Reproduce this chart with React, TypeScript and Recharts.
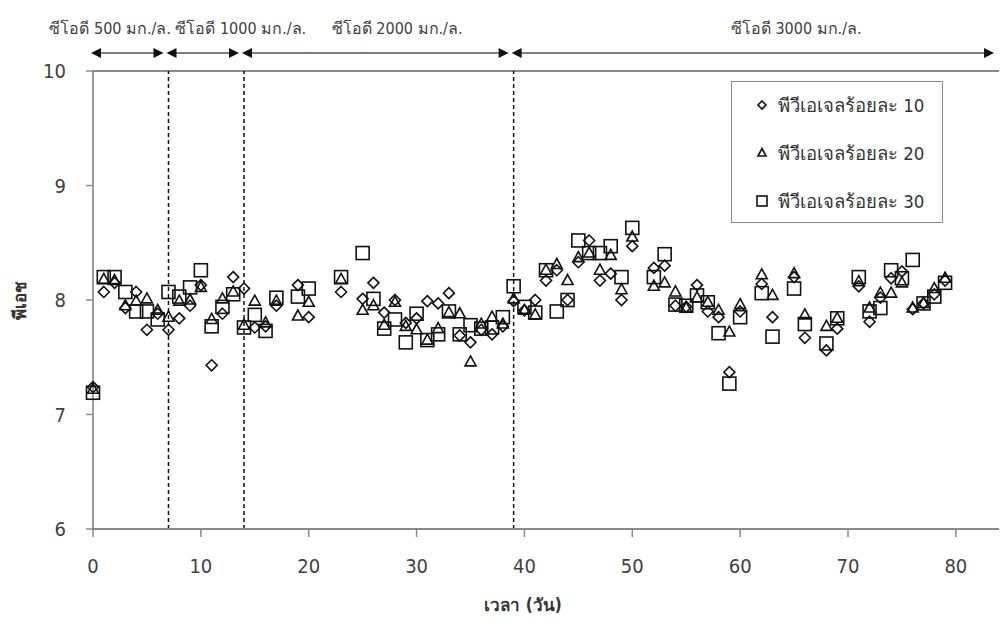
import { ScatterChart, Scatter, XAxis, YAxis, ReferenceLine, ReferenceDot, Legend } from 'recharts';

// sampling days (วัน)
const days = [
  0, 1, 2, 3, 4, 5, 6, 7, 8, 9, 10, 11, 12, 13, 14, 15, 16, 17, 19, 20, 23,
  25, 26, 27, 28, 29, 30, 31, 32, 33, 34, 35, 36, 37, 38, 39, 40, 41, 42, 43, 44,
  45, 46, 47, 48, 49, 50, 52, 53, 54, 55, 56, 57, 58, 59, 60, 62, 63, 65, 66, 68,
  69, 71, 72, 73, 74, 75, 76, 77, 78, 79,
];

// pH, PVA gel 10 %
const pva10 = [
  7.24, 8.07, 8.15, 7.93, 8.07, 7.74, 7.88, 7.74, 7.84, 7.95, 8.13, 7.43, 7.88, 8.2, 8.1, 7.76, 7.77, 7.95, 8.13, 7.85, 8.07,
  8.01, 8.15, 7.89, 8.0, 7.8, 7.84, 7.99, 7.97, 8.06, 7.69, 7.63, 7.74, 7.7, 7.77, 7.99, 7.91, 8.0, 8.17, 8.26, 8.0,
  8.33, 8.52, 8.17, 8.23, 8.0, 8.47, 8.28, 8.3, 7.95, 7.94, 8.13, 7.9, 7.85, 7.37, 7.9, 8.14, 7.85, 8.2, 7.67, 7.56,
  7.75, 8.12, 7.81, 8.02, 8.19, 8.25, 7.92, 7.97, 8.05, 8.17,
];

// pH, PVA gel 20 %
const pva20 = [
  7.22, 8.18, 8.17, 7.95, 7.99, 8.01, 7.91, 7.85, 7.99, 8.0, 8.11, 7.83, 8.01, 8.07, 7.78, 7.99, 7.8, 7.99, 7.86, 7.98, 8.18,
  7.91, 7.95, 7.78, 7.98, 7.77, 7.74, 7.65, 7.75, 7.89, 7.88, 7.46, 7.79, 7.85, 7.79, 8.01, 7.91, 7.87, 8.26, 8.31, 8.17,
  8.37, 8.41, 8.26, 8.39, 8.09, 8.55, 8.12, 8.15, 8.07, 7.93, 8.02, 7.98, 7.91, 7.72, 7.96, 8.22, 8.04, 8.23, 7.87, 7.77,
  7.84, 8.16, 7.93, 8.06, 8.06, 8.15, 7.93, 7.97, 8.1, 8.19,
];

// pH, PVA gel 30 %
const pva30 = [
  7.19, 8.2, 8.2, 8.07, 7.9, 7.9, 7.83, 8.07, 8.03, 8.11, 8.26, 7.77, 7.94, 8.05, 7.76, 7.87, 7.73, 8.02, 8.03, 8.1, 8.2,
  8.41, 8.01, 7.75, 7.83, 7.63, 7.88, 7.65, 7.7, 7.9, 7.7, 7.78, 7.75, 7.76, 7.85, 8.12, 7.94, 7.89, 8.26, 7.9, 8.0,
  8.52, 8.41, 8.41, 8.47, 8.2, 8.63, 8.2, 8.4, 7.96, 7.95, 8.04, 7.98, 7.71, 7.27, 7.85, 8.06, 7.68, 8.1, 7.79, 7.62,
  7.84, 8.2, 7.9, 7.93, 8.26, 8.19, 8.35, 7.97, 8.03, 8.15,
];

const seriesNames = ['พีวีเอเจลร้อยละ 10', 'พีวีเอเจลร้อยละ 20', 'พีวีเอเจลร้อยละ 30'];

// COD loading phases (day boundaries) and their labels
const phaseBounds = [0, 7, 14, 39, 84];
const phaseLabels = ['ซีโอดี 500 มก./ล.', 'ซีโอดี 1000 มก./ล.', 'ซีโอดี 2000 มก./ล.', 'ซีโอดี 3000 มก./ล.'];
const phaseLabelDays = [1.6, 13.7, 28.2, 65.2];

const xTicks = [0, 10, 20, 30, 40, 50, 60, 70, 80];
const yTicks = [6, 7, 8, 9, 10];

const FONT = "'DejaVu Sans Condensed', 'Liberation Sans Narrow', 'DejaVu Sans', sans-serif";

const toPoints = (vals: number[]) => days.map((d, i) => ({ day: d, ph: vals[i] }));

function DiamondShape(p: any) {
  const { cx, cy } = p;
  const r = 5.5;
  return (
    <path d={`M${cx},${cy - r}L${cx + r},${cy}L${cx},${cy + r}L${cx - r},${cy}Z`} fill="none" stroke="#111" strokeWidth={1.6} />
  );
}

function TriangleShape(p: any) {
  const { cx, cy } = p;
  return (
    <path d={`M${cx},${cy - 6}L${cx + 5.5},${cy + 4}L${cx - 5.5},${cy + 4}Z`} fill="none" stroke="#111" strokeWidth={1.6} />
  );
}

function SquareShape(p: any) {
  const { cx, cy } = p;
  return <rect x={cx - 6.5} y={cy - 6.5} width={13} height={13} fill="none" stroke="#111" strokeWidth={1.6} />;
}

function ArrowShape(p: any) {
  const { x1, x2, y1 } = p;
  const y = y1 - 18;
  const a = x1 - 2;
  const b = x2 - 5;
  return (
    <g>
      <line x1={a + 6} y1={y} x2={b - 6} y2={y} stroke="#555" strokeWidth={1.3} />
      <path d={`M${a},${y}L${a + 10},${y - 5}L${a + 10},${y + 5}Z`} fill="#111" />
      <path d={`M${b},${y}L${b - 10},${y - 5}L${b - 10},${y + 5}Z`} fill="#111" />
    </g>
  );
}

function LegendBox() {
  const rows = [23, 71, 119];
  return (
    <div style={{ width: 210, height: 140, border: '1px solid #8a8a8a', background: '#fff' }}>
      <svg width={210} height={140}>
        <path d="M30,19L34,23L30,27L26,23Z" fill="none" stroke="#111" strokeWidth={1.6} />
        <path d="M30,66.5L34,74L26,74Z" fill="none" stroke="#111" strokeWidth={1.6} />
        <rect x={25} y={114} width={10} height={10} fill="none" stroke="#111" strokeWidth={1.6} />
        {seriesNames.map((n, i) => (
          <text key={n} x={46} y={rows[i]} dominantBaseline="central" fontSize={18.5} fill="#333" fontFamily={FONT} style={{ fontStretch: 'condensed' }}>
            {n}
          </text>
        ))}
      </svg>
    </div>
  );
}

export default function App() {
  return (
    <div style={{ position: 'absolute', left: 0, top: 0, background: '#fff' }}>
      <ScatterChart width={1001} height={630} margin={{ top: 71, right: 2, bottom: 11, left: 33 }}>
        <XAxis
          type="number"
          dataKey="day"
          domain={[0, 84]}
          ticks={xTicks}
          height={90}
          stroke="#8a8a8a"
          axisLine={{ stroke: '#8a8a8a', strokeWidth: 2 }}
          tickLine={{ stroke: '#8a8a8a', strokeWidth: 1.5 }}
          tickSize={8}
          tickMargin={22}
          tick={{ fill: '#404040', fontSize: 20, fontFamily: FONT, style: { fontStretch: 'condensed' } }}
          label={{
            content: (lp: any) => {
              const vb = lp.viewBox;
              return (
                <text x={vb.x + vb.width / 2 - 23} y={vb.y + 76} textAnchor="middle" dominantBaseline="central" fontSize={17} fontWeight="bold" fill="#333" fontFamily={FONT}>
                  เวลา (วัน)
                </text>
              );
            },
          }}
        />
        <YAxis
          type="number"
          dataKey="ph"
          domain={[6, 10]}
          ticks={yTicks}
          width={60}
          axisLine={{ stroke: '#666', strokeWidth: 1.3 }}
          tickLine={{ stroke: '#8a8a8a', strokeWidth: 1.5 }}
          tickSize={7}
          tickMargin={20}
          tick={{ fill: '#404040', fontSize: 20, fontFamily: FONT, style: { fontStretch: 'condensed' } }}
          label={{
            content: (lp: any) => {
              const vb = lp.viewBox;
              const cx = vb.x - 13;
              const cy = vb.y + vb.height / 2;
              return (
                <text x={cx} y={cy} transform={`rotate(-90, ${cx}, ${cy})`} textAnchor="middle" dominantBaseline="central" fontSize={17} fontWeight="bold" fill="#333" fontFamily={FONT}>
                  พีเอช
                </text>
              );
            },
          }}
        />
        <ReferenceLine y={10} stroke="#8a8a8a" strokeWidth={2} />
        {phaseBounds.slice(1, -1).map((d) => (
          <ReferenceLine key={`v${d}`} x={d} stroke="#111" strokeWidth={1.5} strokeDasharray="4 3" />
        ))}
        {phaseLabels.map((lab, i) => (
          <ReferenceLine
            key={`a${i}`}
            segment={[
              { x: phaseBounds[i], y: 10 },
              { x: phaseBounds[i + 1], y: 10 },
            ]}
            ifOverflow="visible"
            shape={ArrowShape}
          />
        ))}
        {phaseLabels.map((lab, i) => (
          <ReferenceDot
            key={`l${i}`}
            x={phaseLabelDays[i]}
            y={10}
            ifOverflow="visible"
            shape={(p: any) => (
              <text x={p.cx} y={p.cy - 43} textAnchor="middle" dominantBaseline="central" fontSize={16} fill="#404040" fontFamily={FONT} style={{ fontStretch: 'condensed' }}>
                {lab}
              </text>
            )}
          />
        ))}
        <Scatter name={seriesNames[0]} data={toPoints(pva10)} shape={DiamondShape} isAnimationActive={false} />
        <Scatter name={seriesNames[1]} data={toPoints(pva20)} shape={TriangleShape} isAnimationActive={false} />
        <Scatter name={seriesNames[2]} data={toPoints(pva30)} shape={SquareShape} isAnimationActive={false} />
        <Legend
          layout="horizontal"
          verticalAlign="middle"
          align="center"
          content={() => <LegendBox />}
          wrapperStyle={{ left: 731, top: 81, width: 212, height: 142 }}
        />
      </ScatterChart>
    </div>
  );
}
